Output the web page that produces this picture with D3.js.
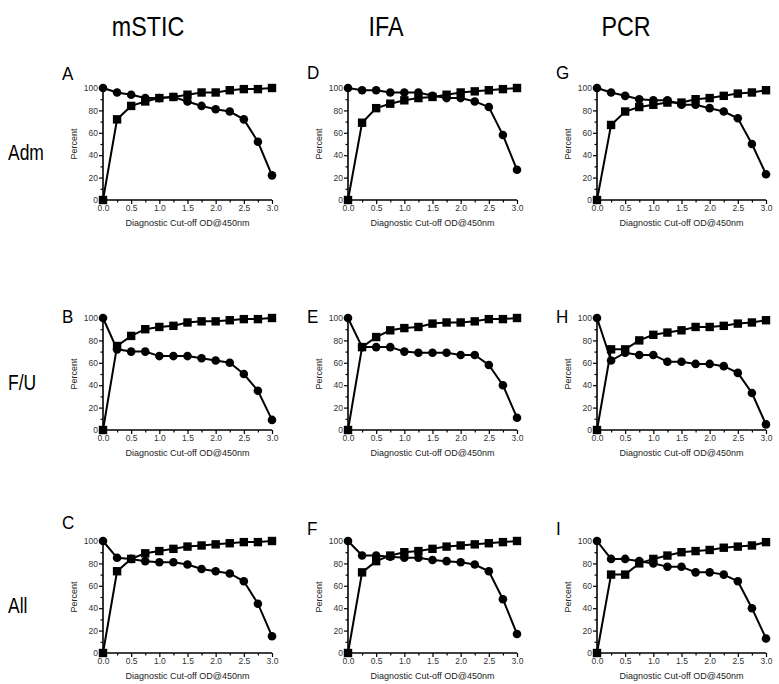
<!DOCTYPE html>
<html><head><meta charset="utf-8">
<script src="https://cdn.jsdelivr.net/npm/d3@7"></script>
<style>body{margin:0;background:#fff}svg{display:block}text{font-family:"Liberation Sans",Arial,sans-serif}</style>
</head><body>
<svg id="c" width="779" height="684"></svg>
<script>
const cutoffs = [0, 0.25, 0.5, 0.75, 1.0, 1.25, 1.5, 1.75, 2.0, 2.25, 2.5, 2.75, 3.0];
const methods = ["mSTIC", "IFA", "PCR"];
const groups = ["Adm", "F/U", "All"];
const panelLetters = [["A","D","G"],["B","E","H"],["C","F","I"]];
// circles series
const circA = [100, 96, 94, 91, 91, 92, 88, 84, 81, 79, 72, 52, 22];
const circD = [100, 98, 98, 96, 96, 96, 93, 91, 91, 88, 83, 58, 27];
const circG = [100, 96, 93, 90, 89, 89, 85, 85, 82, 79, 73, 50, 23];
const circB = [100, 72, 70, 70, 66, 66, 66, 64, 62, 60, 50, 35, 9];
const circE = [100, 74, 74, 74, 70, 69, 69, 69, 67, 67, 58, 40, 11];
const circH = [100, 62, 69, 67, 67, 61, 61, 59, 59, 57, 51, 33, 5];
const circC = [100, 85, 84, 82, 81, 81, 79, 75, 73, 71, 64, 44, 15];
const circF = [100, 87, 87, 86, 85, 85, 83, 82, 81, 79, 73, 48, 17];
const circI = [100, 84, 84, 82, 80, 77, 77, 72, 72, 70, 64, 40, 13];
// squares series
const sqA = [0, 72, 84, 88, 91, 92, 94, 96, 96, 98, 99, 99, 100];
const sqD = [0, 69, 82, 86, 89, 91, 92, 94, 96, 97, 98, 99, 100];
const sqG = [0, 67, 79, 83, 85, 87, 87, 90, 91, 93, 95, 96, 98];
const sqB = [0, 75, 84, 90, 92, 93, 96, 97, 97, 98, 99, 99, 100];
const sqE = [0, 74, 83, 89, 91, 92, 95, 96, 96, 97, 99, 99, 100];
const sqH = [0, 72, 72, 80, 85, 87, 89, 92, 92, 93, 95, 96, 98];
const sqC = [0, 73, 84, 89, 91, 93, 95, 96, 97, 98, 99, 99, 100];
const sqF = [0, 72, 82, 87, 90, 91, 93, 95, 96, 97, 98, 99, 100];
const sqI = [0, 70, 70, 80, 84, 87, 90, 91, 92, 94, 95, 96, 99];
const xTicks = [0, 0.5, 1.0, 1.5, 2.0, 2.5, 3.0];
const yTicks = [0, 20, 40, 60, 80, 100];
const xTitle = "Diagnostic Cut-off OD@450nm";
const yTitle = "Percent";

const circles = {A:circA,B:circB,C:circC,D:circD,E:circE,F:circF,G:circG,H:circH,I:circI};
const squares = {A:sqA,B:sqB,C:sqC,D:sqD,E:sqE,F:sqF,G:sqG,H:sqH,I:sqI};

const svg = d3.select("#c");
const lefts = [103, 348, 597];
const tops = [88, 318, 541];
const W = 169, H = 112;
const headerX = [148, 386, 626];
const letterY = [[80,79,79],[323,323,323],[529,535,535]];

methods.forEach((m,i)=>{
  svg.append("text").attr("transform",`translate(${headerX[i]},36) scale(0.97,1.18)`)
    .attr("text-anchor","middle").attr("font-size",24).text(m);
});
groups.forEach((g,j)=>{
  svg.append("text").attr("transform",`translate(8,${tops[j]+72}) scale(0.92,1.2)`)
    .attr("font-size",19).text(g);
});

for (let r=0;r<3;r++){
  for (let c=0;c<3;c++){
    const L = panelLetters[r][c];
    const x = d3.scaleLinear().domain([0,3]).range([lefts[c], lefts[c]+W]);
    const y = d3.scaleLinear().domain([0,100]).range([tops[r]+H, tops[r]]);
    const g = svg.append("g");
    svg.append("text").attr("transform",`translate(${lefts[c]-41},${letterY[r][c]}) scale(1,1.1)`)
      .attr("font-size",17).text(L);
    // y axis
    const ya = g.append("g").attr("transform",`translate(${lefts[c]},0)`)
      .call(d3.axisLeft(y).tickValues(yTicks).tickSize(4).tickPadding(1).tickFormat(d3.format("d")));
    g.append("g").attr("transform",`translate(${lefts[c]},0)`)
      .call(d3.axisLeft(y).tickValues(d3.range(10,100,20)).tickSize(2.5).tickFormat(""))
      .select(".domain").remove();
    // x axis
    const xa = g.append("g").attr("transform",`translate(0,${tops[r]+H})`)
      .call(d3.axisBottom(x).tickValues(xTicks).tickSize(4).tickPadding(1).tickFormat(d3.format(".1f")));
    g.append("g").attr("transform",`translate(0,${tops[r]+H})`)
      .call(d3.axisBottom(x).tickValues([0.25,0.75,1.25,1.75,2.25,2.75]).tickSize(2.5).tickFormat(""))
      .select(".domain").remove();
    g.selectAll(".domain").attr("stroke","#000").attr("stroke-width",1.6);
    ya.select(".domain").attr("d",`M0,${y(0)}V${y(100)}`);
    xa.select(".domain").attr("d",`M${x(0)},0H${x(3)}`);
    g.selectAll(".tick line").attr("stroke","#000").attr("stroke-width",1.2);
    g.selectAll(".tick text").attr("font-size",8.5).attr("fill","#333").attr("font-family","Liberation Sans, Arial, sans-serif");
    svg.append("text").attr("x",(lefts[c]+lefts[c]+W)/2).attr("y",tops[r]+H+26)
      .attr("text-anchor","middle").attr("font-size",9).attr("fill","#222").text(xTitle);
    svg.append("text").attr("transform",`translate(${lefts[c]-26},${tops[r]+H/2}) rotate(-90)`)
      .attr("text-anchor","middle").attr("font-size",9).attr("fill","#222").text(yTitle);

    const line = d3.line().x((d,i)=>x(cutoffs[i])).y(d=>y(d));
    g.append("path").datum(circles[L]).attr("d",line).attr("fill","none").attr("stroke","#000").attr("stroke-width",2);
    g.append("path").datum(squares[L]).attr("d",line).attr("fill","none").attr("stroke","#000").attr("stroke-width",2);
    g.selectAll(".circ").data(circles[L]).join("circle").attr("class","circ")
      .attr("cx",(d,i)=>x(cutoffs[i])).attr("cy",d=>y(d)).attr("r",4.3).attr("fill","#000");
    g.selectAll(".sq").data(squares[L]).join("rect").attr("class","sq")
      .attr("x",(d,i)=>x(cutoffs[i])-4.2).attr("y",d=>y(d)-4.2).attr("width",8.4).attr("height",8.4).attr("fill","#000");
  }
}
</script>
</body></html>
